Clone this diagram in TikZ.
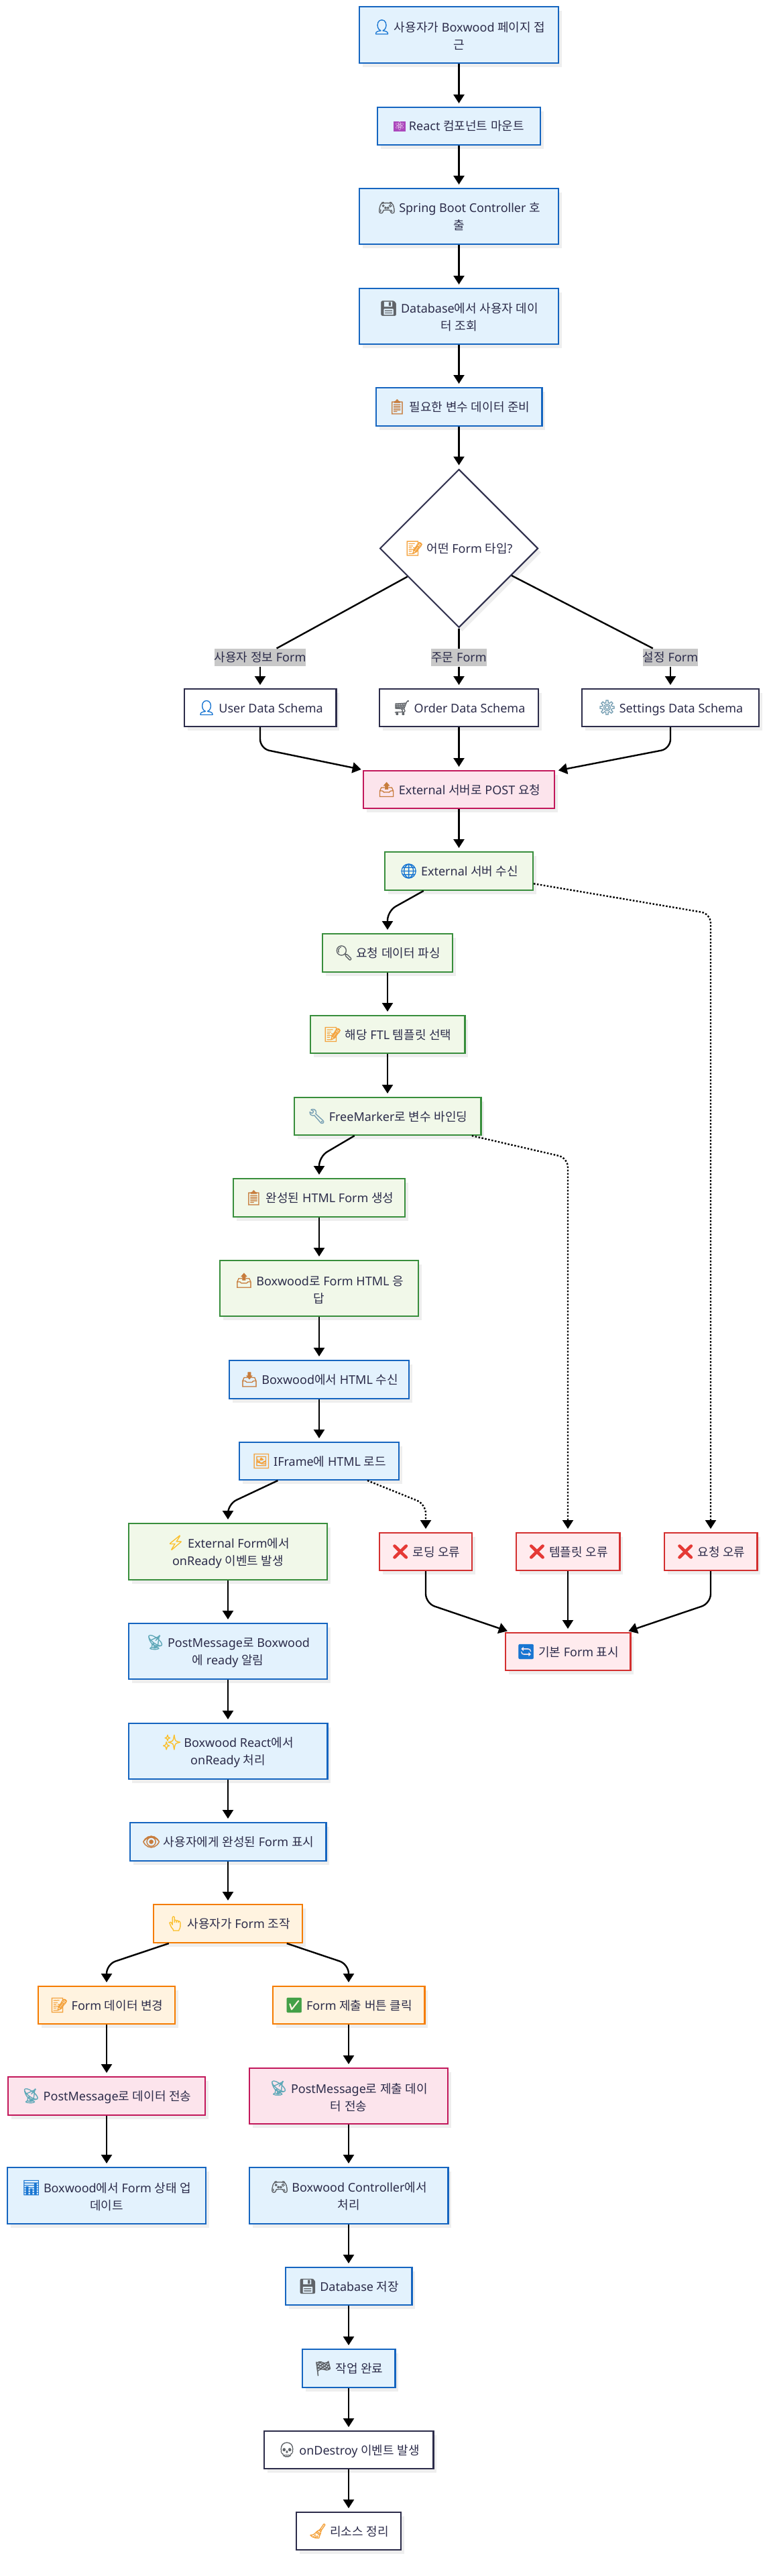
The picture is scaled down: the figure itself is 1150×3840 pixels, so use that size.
\documentclass[tikz,border=0pt]{standalone}
\usepackage{fontspec}
\usetikzlibrary{arrows.meta,shapes.geometric,shadows}
\setmainfont{Noto Sans}
\newfontfamily\krfont{Noto Sans CJK KR}
\newfontfamily\emojifont[Scale=1.2,FakeBold=2]{Noto Emoji}
\newfontfamily\symbfont{DejaVu Sans}
% hangul goes to the CJK font by itself
\newXeTeXintercharclass\hangulclass
\count255="AC00
\loop\XeTeXcharclass\count255=\hangulclass\advance\count255 by 1 \ifnum\count255<"D7A4 \repeat
\XeTeXinterchartoks 0 \hangulclass={\begingroup\krfont}
\XeTeXinterchartoks 4095 \hangulclass={\begingroup\krfont}
\XeTeXinterchartoks \hangulclass 0={\endgroup}
\XeTeXinterchartoks \hangulclass 4095={\endgroup}
\XeTeXinterchartokenstate=1
\newcommand{\emo}[2]{{\color{#1}\emojifont #2}}
\definecolor{inkc}{HTML}{2C2C4A}
\definecolor{bluefill}{HTML}{E3F2FD}\definecolor{blueline}{HTML}{1565C0}
\definecolor{greenfill}{HTML}{F1F8E9}\definecolor{greenline}{HTML}{388E3C}
\definecolor{pinkfill}{HTML}{FCE4EC}\definecolor{pinkline}{HTML}{C2185B}
\definecolor{orangefill}{HTML}{FFF3E0}\definecolor{orangeline}{HTML}{F57C00}
\definecolor{redfill}{HTML}{FFEBEE}\definecolor{redline}{HTML}{D32F2F}
\definecolor{labelfill}{HTML}{C8C8C8}
\definecolor{shadowc}{HTML}{EEEEEE}
\definecolor{emoblue}{HTML}{1976D2}\definecolor{emopurple}{HTML}{AB47BC}
\definecolor{emogray}{HTML}{5F6368}\definecolor{emobrown}{HTML}{C77C3C}
\definecolor{emoorange}{HTML}{F4A23C}\definecolor{emosteel}{HTML}{78A0B4}
\definecolor{emored}{HTML}{E53935}\definecolor{emoteal}{HTML}{5FA8B8}
\definecolor{emoyellow}{HTML}{FBC02D}\definecolor{emogreen}{HTML}{43A047}
% the atom is white on a purple square
\newcommand{\atomemo}{{\setlength{\fboxsep}{1pt}\colorbox{emopurple}{\color{white}\symbfont ⚛}}}
\tikzset{
  wh/.style 2 args={minimum width=#1pt-2.4pt,minimum height=#2pt-2.4pt},
  boxbase/.style={rectangle,draw,line width=2.4pt,inner sep=0pt,align=center,text=inkc,
    font=\fontsize{18}{26}\selectfont,general shadow={fill=shadowc,shadow xshift=5pt,shadow yshift=-6pt}},
  bluebox/.style={boxbase,fill=bluefill,draw=blueline},
  greenbox/.style={boxbase,fill=greenfill,draw=greenline},
  pinkbox/.style={boxbase,fill=pinkfill,draw=pinkline},
  orangebox/.style={boxbase,fill=orangefill,draw=orangeline},
  redbox/.style={boxbase,fill=redfill,draw=redline},
  darkbox/.style={boxbase,fill=white,draw=inkc},
  choicebox/.style={boxbase,shape=diamond,aspect=1,line width=2pt,fill=white,draw=inkc},
  edgelabel/.style={rectangle,fill=labelfill,inner sep=0pt,text=inkc,font=\fontsize{18}{26}\selectfont},
  link/.style={line width=2.4pt,black},
  flow/.style={link,-{Triangle[length=13pt,width=16pt]},shorten >=5pt,rounded corners=14pt},
  dots/.style={flow,dash pattern=on 2.5pt off 2.5pt}
}
\begin{document}
\begin{tikzpicture}[x=1pt,y=-1pt]
\useasboundingbox (0,0) rectangle (1150,3840);
% top of the flow
\node[bluebox,wh={299}{86}] (access) at (684.5,52) {\emo{emoblue}{👤} 사용자가 Boxwood 페이지 접\\근};
\node[bluebox,wh={245}{58}] (mount) at (684.5,188) {\atomemo{} React 컴포넌트 마운트};
\node[bluebox,wh={299}{85}] (spring) at (684.5,322.5) {\emo{emogray}{🎮} Spring Boot Controller 호\\출};
\node[bluebox,wh={299}{85}] (dbread) at (684.5,471.5) {\emo{emogray}{💾} Database에서 사용자 데이\\터 조회};
\node[bluebox,wh={250}{59}] (prepare) at (684.5,606.5) {\emo{emobrown}{📋} 필요한 변수 데이터 준비};
\node[choicebox,minimum width=236pt,minimum height=236pt] (choice) at (684.5,817.5) {\emo{emoorange}{📝} 어떤 Form 타입?};
\node[edgelabel,wh={139}{29}] (lbuser) at (388,980) {사용자 정보 Form};
\node[edgelabel,wh={83}{29}] (lborder) at (684.5,980) {주문 Form};
\node[edgelabel,wh={84}{29}] (lbset) at (1000,980) {설정 Form};
\node[darkbox,wh={229}{58}] (user) at (388,1055) {\emo{emoblue}{👤} User Data Schema};
\node[darkbox,wh={239}{58}] (order) at (684.5,1055) {\emo{emogray}{🛒} Order Data Schema};
\node[darkbox,wh={266}{58}] (settings) at (1000,1055) {\emo{emosteel}{⚙} Settings Data Schema};
\node[pinkbox,wh={287}{58}] (post) at (684.5,1177) {\emo{emobrown}{📤} External 서버로 POST 요청};
% external server
\node[greenbox,wh={223}{59}] (ext) at (684.5,1298.5) {\emo{emoblue}{🌐} External 서버 수신};
\node[greenbox,wh={196}{59}] (parse) at (578,1420.5) {\emo{emogray}{🔍} 요청 데이터 파싱};
\node[greenbox,wh={233}{58}] (ftl) at (578,1542) {\emo{emoorange}{📝} 해당 FTL 템플릿 선택};
\node[greenbox,wh={281}{58}] (bind) at (578,1664) {\emo{emosteel}{🔧} FreeMarker로 변수 바인딩};
\node[greenbox,wh={258}{59}] (html) at (476,1785.5) {\emo{emobrown}{📋} 완성된 HTML Form 생성};
\node[greenbox,wh={298}{85}] (resp) at (476,1920.5) {\emo{emobrown}{📤} Boxwood로 Form HTML 응\\답};
\node[bluebox,wh={270}{59}] (recv) at (476,2056.5) {\emo{emobrown}{📥} Boxwood에서 HTML 수신};
\node[bluebox,wh={240}{58}] (iframe) at (476,2178) {\emo{emoorange}{🖼} IFrame에 HTML 로드};
\node[greenbox,wh={298}{86}] (extform) at (340,2313) {\emo{emoyellow}{⚡} External Form에서\\onReady 이벤트 발생};
\node[redbox,wh={140}{58}] (loaderr) at (635,2313) {\emo{emored}{❌} 로딩 오류};
\node[redbox,wh={157}{58}] (tplerr) at (847,2313) {\emo{emored}{❌} 템플릿 오류};
\node[redbox,wh={141}{58}] (reqerr) at (1060,2313) {\emo{emored}{❌} 요청 오류};
\node[redbox,wh={189}{58}] (fallback) at (847,2462) {\emo{emoblue}{🔄} 기본 Form 표시};
% back in the browser
\node[bluebox,wh={298}{85}] (notify) at (340,2461.5) {\emo{emoteal}{📡} PostMessage로 Boxwood\\에 ready 알림};
\node[bluebox,wh={299}{85}] (ready) at (340,2610.5) {\emo{emoyellow}{✨} Boxwood React에서\\onReady 처리};
\node[bluebox,wh={295}{59}] (show) at (340,2745.5) {\emo{emobrown}{👁} 사용자에게 완성된 Form 표시};
\node[orangebox,wh={224}{59}] (manip) at (340,2867.5) {\emo{emoyellow}{👆} 사용자가 Form 조작};
\node[orangebox,wh={206}{58}] (change) at (159,2989) {\emo{emoorange}{📝} Form 데이터 변경};
\node[orangebox,wh={229}{58}] (submit) at (520,2989) {\emo{emogreen}{✅} Form 제출 버튼 클릭};
\node[pinkbox,wh={296}{59}] (pmdata) at (159,3124.5) {\emo{emoteal}{📡} PostMessage로 데이터 전송};
\node[pinkbox,wh={298}{85}] (pmsubmit) at (520,3124.5) {\emo{emoteal}{📡} PostMessage로 제출 데이\\터 전송};
\node[bluebox,wh={298}{86}] (update) at (159,3273) {\emo{emoblue}{📊} Boxwood에서 Form 상태 업\\데이트};
\node[bluebox,wh={299}{86}] (control) at (520,3273) {\emo{emogray}{🎮} Boxwood Controller에서\\처리};
\node[bluebox,wh={191}{58}] (save) at (520,3408) {\emo{emogray}{💾} Database 저장};
\node[bluebox,wh={141}{59}] (done) at (520,3530.5) {\emo{emogray}{🏁} 작업 완료};
\node[darkbox,wh={255}{58}] (destroy) at (520,3652) {\emo{emogray}{💀} onDestroy 이벤트 발생};
\node[darkbox,wh={158}{58}] (clean) at (520,3773) {\emo{emoorange}{🧹} 리소스 정리};
% straight arrows
\foreach \a/\b in {access/mount,mount/spring,spring/dbread,dbread/prepare,prepare/choice,
    lbuser/user,lborder/order,lbset/settings,order/post,post/ext,
    parse/ftl,ftl/bind,html/resp,resp/recv,recv/iframe,extform/notify,notify/ready,ready/show,show/manip,
    tplerr/fallback,change/pmdata,pmdata/update,submit/pmsubmit,pmsubmit/control,control/save,save/done,done/destroy,destroy/clean}
  \draw[flow] (\a) -- (\b);
\foreach \l in {lbuser,lborder,lbset}
  \draw[link] (choice) -- (\l);
% arrows that bend once
\foreach \a/\bx/\by/\b in {user/388/1116/post,settings/1000/1116/post,ext/578/1358/parse,bind/476/1724/html,
    iframe/340/2242/extform,loaderr/635/2390/fallback,reqerr/1060/2390/fallback,manip/159/2928/change,manip/520/2928/submit}
  \draw[flow] (\a) -- (\bx,\by) -- (\b);
\foreach \a/\bx/\by/\b in {ext/1060/1362/reqerr,bind/847/1726/tplerr,iframe/635/2242/loaderr}
  \draw[dots] (\a) -- (\bx,\by) -- (\b);
\end{tikzpicture}
\end{document}
